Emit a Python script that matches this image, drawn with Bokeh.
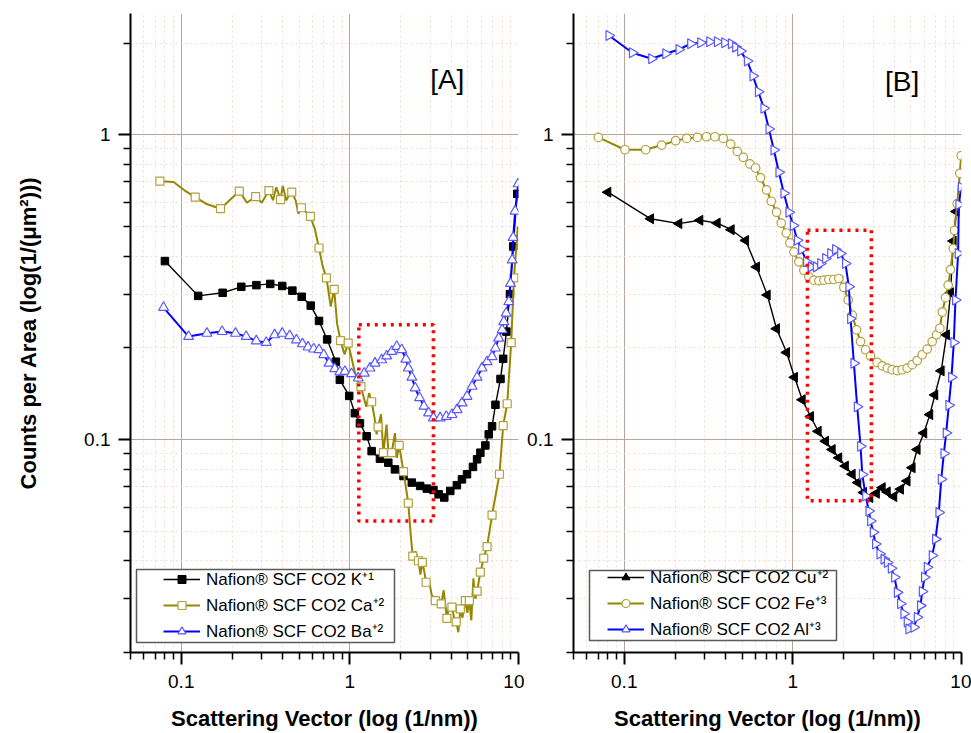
import math
from bokeh.plotting import figure
from bokeh.layouts import row
from bokeh.models import (Range1d, FixedTicker, CustomJSTickFormatter, Legend, LegendItem,
                          BoxAnnotation, Label)
from bokeh.embed import file_html
from bokeh.resources import INLINE

FONT = "Liberation Sans"

# ---------------- axes / ticks ----------------
x_range_vals = [0.05, 10]
y_range_vals = [0.02, 2.5]
x_major_ticks = [0.1, 1, 10]
x_tick_labels = ["0.1", "1", "10"]
x_minor_ticks = [0.05, 0.06, 0.07, 0.08, 0.09, 0.2, 0.3, 0.4, 0.5, 0.6, 0.7, 0.8, 0.9,
                 2, 3, 4, 5, 6, 7, 8, 9]
y_major_ticks = [0.1, 1]
y_tick_labels = ["0.1", "1"]
y_minor_ticks = [0.02, 0.03, 0.04, 0.05, 0.06, 0.07, 0.08, 0.09,
                 0.2, 0.3, 0.4, 0.5, 0.6, 0.7, 0.8, 0.9, 2]

# ---------------- panel A data ----------------
k_x = [0.080, 0.126, 0.176, 0.227, 0.279, 0.337, 0.397, 0.456, 0.518, 0.586, 0.656, 0.733,
       0.826, 0.872, 0.991, 1.071, 1.147, 1.257, 1.346, 1.508, 1.69, 1.85, 2.08, 2.33, 2.61,
       2.86, 3.13, 3.36, 3.63, 3.94, 4.31, 4.62, 4.95, 5.37, 5.68, 5.94, 6.36, 6.66, 6.97,
       7.30, 7.82, 8.11, 8.48, 8.90, 9.30, 9.83]
k_y = [0.385, 0.296, 0.303, 0.317, 0.321, 0.324, 0.319, 0.308, 0.294, 0.275, 0.245, 0.213,
       0.180, 0.157, 0.139, 0.122, 0.113, 0.1025, 0.0916, 0.0865, 0.0839, 0.0798, 0.0759,
       0.0722, 0.0704, 0.069, 0.0683, 0.0661, 0.0645, 0.0678, 0.0708, 0.074, 0.0769, 0.0813,
       0.0861, 0.0905, 0.0956, 0.104, 0.1105, 0.130, 0.158, 0.184, 0.226, 0.300, 0.430, 0.640]

# Ca: full (noisy) line and the points that carry markers
ca_line_x = [0.0747, 0.09, 0.105, 0.121, 0.14, 0.171, 0.19, 0.221, 0.245, 0.276, 0.30, 0.331,
             0.35, 0.366, 0.388, 0.40, 0.42, 0.44, 0.452, 0.477, 0.495, 0.516, 0.545, 0.583,
             0.62, 0.656, 0.69, 0.726, 0.77, 0.807, 0.84, 0.880, 0.93, 0.977, 1.05, 1.10,
             1.163, 1.25, 1.30, 1.346, 1.40, 1.44, 1.47, 1.53, 1.58, 1.65, 1.70, 1.77, 1.85,
             1.90, 1.96, 2.08, 2.22, 2.30, 2.36, 2.45, 2.55, 2.62, 2.69, 2.76, 2.83, 2.95,
             3.05, 3.21, 3.35, 3.48, 3.60, 3.76, 3.90, 4.03, 4.15, 4.27, 4.40, 4.52, 4.65,
             4.84, 4.97, 5.11, 5.25, 5.40, 5.55, 5.68, 5.94, 6.22, 6.51, 6.97, 7.71, 8.11,
             8.57, 9.05, 9.40, 9.90]
ca_line_y = [0.704, 0.70, 0.656, 0.624, 0.594, 0.572, 0.604, 0.653, 0.598, 0.627, 0.598, 0.656,
             0.61, 0.673, 0.613, 0.68, 0.609, 0.64, 0.648, 0.609, 0.55, 0.576, 0.56, 0.540,
             0.49, 0.425, 0.37, 0.339, 0.273, 0.311, 0.24, 0.211, 0.19, 0.207, 0.174, 0.157,
             0.149, 0.128, 0.142, 0.133, 0.118, 0.104, 0.110, 0.121, 0.0905, 0.112, 0.088,
             0.0905, 0.105, 0.087, 0.0956, 0.0784, 0.0618, 0.048, 0.0414, 0.043, 0.040, 0.036,
             0.0395, 0.037, 0.034, 0.0345, 0.031, 0.0296, 0.0305, 0.0289, 0.032, 0.0259,
             0.029, 0.0282, 0.026, 0.0252, 0.0233, 0.0278, 0.026, 0.0296, 0.027, 0.0296,
             0.0255, 0.035, 0.030, 0.0318, 0.0367, 0.0408, 0.0445, 0.0565, 0.0769, 0.111,
             0.131, 0.208, 0.339, 0.50]
ca_mark_x = [0.0747, 0.121, 0.171, 0.221, 0.276, 0.331, 0.388, 0.452, 0.516, 0.583, 0.656,
             0.726, 0.807, 0.880, 0.977, 1.163, 1.346, 1.47, 1.58, 1.77, 1.96, 2.08, 2.22,
             2.36, 2.55, 2.69, 2.83, 3.21, 3.48, 3.76, 4.03, 4.27, 4.52, 4.84, 5.11, 5.68,
             5.94, 6.22, 6.51, 6.97, 7.71, 8.11, 8.57, 9.05, 9.40]
ca_mark_y = [0.704, 0.624, 0.572, 0.653, 0.627, 0.656, 0.613, 0.648, 0.576, 0.540, 0.425,
             0.339, 0.311, 0.211, 0.207, 0.149, 0.133, 0.110, 0.0905, 0.0905, 0.0956, 0.0784,
             0.0618, 0.0414, 0.040, 0.0395, 0.034, 0.0296, 0.0289, 0.0259, 0.0282, 0.0252,
             0.0278, 0.0296, 0.0296, 0.0318, 0.0367, 0.0408, 0.0445, 0.0565, 0.0769, 0.111,
             0.131, 0.208, 0.339]

ba_x = [0.0785, 0.1105, 0.142, 0.1747, 0.2097, 0.2425, 0.2786, 0.319, 0.358, 0.397, 0.4395,
        0.482, 0.523, 0.565, 0.610, 0.656, 0.700, 0.753, 0.814, 0.872, 0.934, 1.023, 1.121,
        1.217, 1.315, 1.409, 1.544, 1.653, 1.77, 1.897, 2.03, 2.15, 2.22, 2.33, 2.44, 2.59,
        2.75, 2.93, 3.13, 3.43, 3.73, 4.03, 4.32, 4.62, 4.95, 5.30, 5.68, 6.08, 6.51, 6.97,
        7.30, 7.63, 8.00, 8.18, 8.45, 8.76, 8.96, 9.17, 9.30, 9.55, 9.95]
ba_y = [0.271, 0.2177, 0.223, 0.226, 0.223, 0.2177, 0.2106, 0.208, 0.2205, 0.223, 0.219,
        0.212, 0.206, 0.201, 0.198, 0.197, 0.1896, 0.178, 0.1706, 0.1665, 0.1672, 0.1643,
        0.159, 0.165, 0.1715, 0.178, 0.1825, 0.188, 0.1944, 0.2018, 0.197, 0.1835, 0.1715,
        0.160, 0.1476, 0.137, 0.1285, 0.1222, 0.1177, 0.1177, 0.119, 0.1207, 0.1253, 0.1318,
        0.1385, 0.1494, 0.160, 0.1715, 0.180, 0.187, 0.1995, 0.215, 0.229, 0.2436, 0.2596,
        0.283, 0.325, 0.388, 0.46, 0.5615, 0.69]

# ---------------- panel B data ----------------
cu_x = [0.080, 0.1434, 0.211, 0.281, 0.356, 0.431, 0.525, 0.609, 0.705, 0.80, 0.918, 1.023,
        1.137, 1.273, 1.414, 1.563, 1.712, 1.874, 2.05, 2.25, 2.43, 2.63, 2.86, 3.13, 3.39,
        3.63, 3.97, 4.35, 4.76, 5.10, 5.46, 5.98, 6.49, 6.95, 7.58, 8.15, 8.61, 8.93, 9.30]
cu_y = [0.648, 0.530, 0.511, 0.524, 0.513, 0.488, 0.450, 0.3685, 0.298, 0.231, 0.193, 0.160,
        0.135, 0.119, 0.1064, 0.0987, 0.0927, 0.0871, 0.0818, 0.0769, 0.0722, 0.067, 0.0645,
        0.0666, 0.0695, 0.0673, 0.065, 0.0687, 0.0731, 0.0808, 0.0927, 0.105, 0.1207, 0.140,
        0.168, 0.2205, 0.303, 0.448, 0.56]

fe_x = [0.0702, 0.101, 0.134, 0.1667, 0.2018, 0.2345, 0.2712, 0.3078, 0.345, 0.3867, 0.4274,
        0.468, 0.508, 0.556, 0.601, 0.643, 0.698, 0.745, 0.80, 0.8535, 0.914, 0.96, 1.014,
        1.085, 1.162, 1.244, 1.332, 1.426, 1.527, 1.634, 1.75, 1.874, 2.006, 2.13, 2.25,
        2.386, 2.52, 2.70, 2.888, 3.16, 3.39, 3.63, 3.88, 4.16, 4.45, 4.76, 5.10, 5.46, 5.85,
        6.26, 6.70, 7.11, 7.44, 7.69, 8.04, 8.34, 8.61, 8.93, 9.09, 9.43, 9.77, 9.96]
fe_y = [0.980, 0.893, 0.893, 0.925, 0.956, 0.973, 0.980, 0.985, 0.985, 0.973, 0.932, 0.882,
        0.843, 0.802, 0.778, 0.722, 0.659, 0.605, 0.557, 0.513, 0.476, 0.4415, 0.4125, 0.383,
        0.3594, 0.342, 0.3334, 0.3317, 0.3334, 0.335, 0.335, 0.3376, 0.3155, 0.287, 0.256,
        0.229, 0.2096, 0.197, 0.188, 0.179, 0.1745, 0.1715, 0.1694, 0.1684, 0.1694, 0.1715,
        0.176, 0.1816, 0.1897, 0.198, 0.2096, 0.2205, 0.2318, 0.262, 0.292, 0.321, 0.361,
        0.423, 0.4856, 0.5937, 0.747, 0.854]

al_x = [0.0811, 0.1117, 0.1453, 0.176, 0.211, 0.2474, 0.2838, 0.3208, 0.3564, 0.3937, 0.4313,
        0.4574, 0.4898, 0.5367, 0.5795, 0.6237, 0.673, 0.721, 0.7717, 0.826, 0.8844, 0.947,
        1.005, 1.062, 1.126, 1.205, 1.285, 1.376, 1.46, 1.563, 1.674, 1.79, 1.918, 2.05,
        2.148, 2.198, 2.30, 2.407, 2.52, 2.58, 2.70, 2.823, 2.888, 2.997, 3.09, 3.28, 3.47,
        3.63, 3.83, 4.01, 4.16, 4.35, 4.55, 4.76, 4.87, 5.22, 5.46, 5.71, 5.85, 6.03, 6.26,
        6.70, 7.01, 7.34, 7.58, 7.86, 8.11, 8.41, 8.72, 9.0, 9.21, 9.55, 9.64, 9.96]
al_y = [2.118, 1.858, 1.776, 1.844, 1.905, 1.989, 2.003, 2.018, 2.018, 2.003, 1.989, 1.939,
        1.882, 1.745, 1.559, 1.385, 1.222, 1.044, 0.891, 0.753, 0.643, 0.557, 0.504, 0.451,
        0.42, 0.383, 0.3685, 0.3685, 0.378, 0.3925, 0.408, 0.42, 0.408, 0.378, 0.317, 0.249,
        0.178, 0.128, 0.095, 0.0768, 0.0653, 0.0583, 0.054, 0.0496, 0.0454, 0.0421, 0.0405,
        0.0395, 0.0378, 0.0353, 0.0315, 0.0289, 0.0268, 0.0252, 0.0239, 0.0242, 0.0261,
        0.0285, 0.0317, 0.0353, 0.0381, 0.0416, 0.0471, 0.0576, 0.074, 0.090, 0.105, 0.1295,
        0.160, 0.208, 0.287, 0.408, 0.5906, 0.673]

# highlighted regions (data units) and panel tags
rect_a_x = [1.13, 3.13]
rect_a_y = [0.054, 0.238]
rect_b_x = [1.22, 2.92]
rect_b_y = [0.063, 0.486]
tag_a = ("[A]", 3.78, 1.52)
tag_b = ("[B]", 4.45, 1.50)

x_title = "Scattering Vector (log (1/nm))"
y_title = "Counts per Area (log(1/(μm²)))"
labels_a = ["Nafion® SCF CO2 K⁺¹", "Nafion® SCF CO2 Ca⁺²", "Nafion® SCF CO2 Ba⁺²"]
labels_b = ["Nafion® SCF CO2 Cu⁺²", "Nafion® SCF CO2 Fe⁺³", "Nafion® SCF CO2 Al⁺³"]

OLIVE = "#968700"
OLIVE_MK = "#b0a23c"
BLUE = "#0000ff"
BLUE_MK = "#5858ff"

FMT_CODE = "const i = t.indexOf(tick); return i >= 0 ? l[i] : '';"


def make_fig(width, left_border, right_border):
    p = figure(width=width, height=733, x_axis_type="log", y_axis_type="log",
               x_range=Range1d(*x_range_vals), y_range=Range1d(*y_range_vals),
               output_backend="svg", toolbar_location=None,
               min_border_left=left_border, min_border_right=right_border,
               min_border_top=13, min_border_bottom=80)
    p.outline_line_color = None
    p.background_fill_color = "white"
    p.border_fill_color = "white"
    xt = FixedTicker(ticks=x_major_ticks, minor_ticks=x_minor_ticks)
    yt = FixedTicker(ticks=y_major_ticks, minor_ticks=y_minor_ticks)
    p.xaxis.ticker = xt
    p.xgrid.ticker = xt
    p.yaxis.ticker = yt
    p.ygrid.ticker = yt
    p.xaxis.formatter = CustomJSTickFormatter(args=dict(t=x_major_ticks, l=x_tick_labels), code=FMT_CODE)
    p.yaxis.formatter = CustomJSTickFormatter(args=dict(t=y_major_ticks, l=y_tick_labels), code=FMT_CODE)
    for ax in (p.xaxis, p.yaxis):
        ax.axis_line_width = 2
        ax.axis_line_color = "black"
        ax.major_tick_line_width = 2
        ax.minor_tick_line_width = 1.5
        ax.major_tick_in = 0
        ax.minor_tick_in = 0
        ax.major_tick_out = 12
        ax.minor_tick_out = 7
        ax.major_label_text_font = FONT
        ax.major_label_text_font_size = "19px"
        ax.major_label_text_color = "black"
        ax.axis_label_text_color = "black"
        ax.axis_label_text_font = FONT
        ax.axis_label_text_font_style = "bold"
        ax.axis_label_text_font_size = "22px"
    p.xaxis.major_label_standoff = 10
    p.yaxis.major_label_standoff = 8
    p.xaxis.axis_label = x_title
    p.xaxis.axis_label_standoff = 15
    for g in (p.xgrid, p.ygrid):
        g.grid_line_color = "#b9a49c"
        g.grid_line_width = 1
        g.minor_grid_line_color = "#f0dad2"
        g.minor_grid_line_dash = "2 3"
        g.minor_grid_line_width = 1
    return p


def add_legend(p, items, loc, box):
    frame = BoxAnnotation(left=box[0], right=box[1], bottom=box[2], top=box[3],
                          left_units="screen", right_units="screen",
                          bottom_units="screen", top_units="screen",
                          fill_color="white", fill_alpha=1.0,
                          line_color="#5a5a5a", line_alpha=1.0, line_width=1.5)
    p.add_layout(frame)
    lg = Legend(items=items, location=loc, label_text_font=FONT, label_text_font_size="17px",
                label_text_color="black",
                glyph_width=37, glyph_height=20, label_height=20, label_standoff=6,
                spacing=3, padding=0, margin=0, border_line_color=None,
                background_fill_alpha=0.0)
    p.add_layout(lg)


def add_rect(p, xs, ys):
    p.add_layout(BoxAnnotation(left=xs[0], right=xs[1], bottom=ys[0], top=ys[1],
                               fill_alpha=0, fill_color=None, line_color="#ff0000",
                               line_alpha=1.0, line_width=3.5, line_dash="3 5"))


# ---------------- panel A ----------------
pa = make_fig(524, 130, 6)
pa.yaxis.axis_label = y_title
pa.yaxis.axis_label_standoff = 40

k_l = pa.line(k_x, k_y, line_color="black", line_width=1.4)
k_s = pa.scatter(k_x, k_y, marker="square", size=7.5, fill_color="black", line_color="black")
ca_l = pa.line(ca_line_x, ca_line_y, line_color=OLIVE, line_width=2)
ca_s = pa.scatter(ca_mark_x, ca_mark_y, marker="square", size=8, fill_color="white",
                  line_color=OLIVE_MK, line_width=1.2)
ba_l = pa.line(ba_x, ba_y, line_color=BLUE, line_width=2)
ba_s = pa.scatter(ba_x, ba_y, marker="triangle", size=10, fill_color="white",
                  line_color=BLUE_MK, line_width=1.2)
add_rect(pa, rect_a_x, rect_a_y)
pa.add_layout(Label(x=tag_a[1], y=tag_a[2], text=tag_a[0], text_font=FONT, text_font_size="28px",
                    text_align="center", text_baseline="middle", text_color="black"))
add_legend(pa, [LegendItem(label=labels_a[0], renderers=[k_l, k_s]),
                LegendItem(label=labels_a[1], renderers=[ca_l, ca_s]),
                LegendItem(label=labels_a[2], renderers=[ba_l, ba_s])],
           (33, 10), (6, 264, 10, 83))

# ---------------- panel B ----------------
pb = make_fig(447, 49, 10)
cu_l = pb.line(cu_x, cu_y, line_color="black", line_width=1.4)
cu_s = pb.scatter(cu_x, cu_y, marker="triangle", size=10, angle=math.pi / 2,
                  fill_color="black", line_color="black")
fe_l = pb.line(fe_x, fe_y, line_color=OLIVE, line_width=2)
fe_s = pb.scatter(fe_x, fe_y, marker="circle", size=8.5, fill_color="white",
                  line_color=OLIVE_MK, line_width=1.2)
al_l = pb.line(al_x, al_y, line_color=BLUE, line_width=2)
al_s = pb.scatter(al_x, al_y, marker="triangle", size=10, angle=-math.pi / 2,
                  fill_color="white", line_color=BLUE_MK, line_width=1.2)
add_rect(pb, rect_b_x, rect_b_y)
pb.add_layout(Label(x=tag_b[1], y=tag_b[2], text=tag_b[0], text_font=FONT, text_font_size="28px",
                    text_align="center", text_baseline="middle", text_color="black"))
add_legend(pb, [LegendItem(label=labels_b[0], renderers=[cu_l, cu_s]),
                LegendItem(label=labels_b[1], renderers=[fe_l, fe_s]),
                LegendItem(label=labels_b[2], renderers=[al_l, al_s])],
           (34, 12), (16, 263, 12, 82))

layout = row(pa, pb)
open("out.html", "w").write(file_html(layout, INLINE))
